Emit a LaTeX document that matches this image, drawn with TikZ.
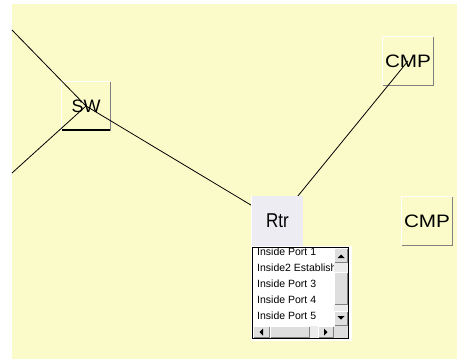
\documentclass[tikz,border=0pt]{standalone}
\usepackage{fontspec}
\setmainfont{Liberation Sans}
\definecolor{bgyel}{RGB}{251,251,202}
\definecolor{rtrfill}{RGB}{236,236,242}
\definecolor{btnface}{RGB}{222,222,222}
\definecolor{trackc}{RGB}{236,236,236}
\definecolor{shadowc}{RGB}{128,128,128}
\pgfdeclarelayer{boxes}
\pgfdeclarelayer{edges}
\pgfsetlayers{boxes,edges,main}
\newcommand\winbtn[4]{%
  \fill[btnface] (#1,#2) rectangle (#3,#4);
  \draw[white,line width=1pt] (#1+.5,#4-.5)--(#1+.5,#2+.5)--(#3-.5,#2+.5);
  \draw[shadowc,line width=1pt] (#3-.5,#2+.5)--(#3-.5,#4-.5)--(#1+.5,#4-.5);}
\newcommand\boxedges[1]{%
  \draw[white,line width=1pt] (#1.south west)--(#1.north west)--(#1.north east);
  \draw[shadowc,line width=1pt] (#1.north east)--(#1.south east)--(#1.south west);}
\begin{document}
\begin{tikzpicture}[x=1pt,y=-1pt,
  devbox/.style={minimum width=48pt,minimum height=48pt,inner sep=0pt,
    font=\fontsize{18pt}{20pt}\selectfont},
  rtrbox/.style={minimum width=51pt,minimum height=50pt,inner sep=0pt,fill=rtrfill,
    font=\fontsize{20pt}{22pt}\selectfont},
  edge/.style={black,line width=0.8pt},
  item/.style={anchor=west,inner sep=0pt,font=\fontsize{10.5pt}{12pt}\selectfont}]
\useasboundingbox (0,0) rectangle (457,359);
\begin{pgfonlayer}{boxes}
  \fill[white] (0,0) rectangle (457,359);
  \fill[bgyel] (12,4) rectangle (457,359);
  \node[devbox] (sw) at (86,106) {SW};
  \boxedges{sw}
  \draw[black,line width=1.5pt] (sw.south west)--(sw.south east);
  \node[devbox,minimum width=50pt] (cmpa) at (408,61) {\scalebox{1.15}[1]{CMP}};
  \boxedges{cmpa}
  \node[devbox,minimum width=50pt] (cmpb) at (427,221) {\scalebox{1.15}[1]{CMP}};
  \boxedges{cmpb}
\end{pgfonlayer}
\coordinate (e1) at (12,30);
\coordinate (e2) at (12,173);
\node[rtrbox] (rtr) at (277.5,221) {\raisebox{-4pt}{\scalebox{0.85}[1]{Rtr}}};
\draw[white,line width=1pt] (rtr.south west)--(rtr.north west);
\begin{pgfonlayer}{edges}
  \draw[edge] (e1) -- (sw.center);
  \draw[edge] (e2) -- (sw.center);
  \draw[edge] (sw.center) -- (rtr.center);
  \draw[edge] (rtr.center) -- (cmpa.center);
\end{pgfonlayer}
% list box
\node[fill=white,minimum width=101pt,minimum height=95pt,inner sep=0pt,anchor=north west] (list) at (251,246) {};
\draw[black,line width=1pt] (252.5,247.5) rectangle (348.5,338.5);
\begin{scope}
  \clip (253,248) rectangle (334,326);
  \node[item] (it1) at (257,251.5) {Inside Port 1};
  \node[item] (it2) at (257,267.5) {Inside2 Establish};
  \node[item] (it3) at (257,283.5) {Inside Port 3};
  \node[item] (it4) at (257,300) {Inside Port 4};
  \node[item] (it5) at (257,316) {Inside Port 5};
\end{scope}
% vertical scrollbar
\fill[trackc] (334,248) rectangle (348,326);
\winbtn{334}{248}{348}{263}
\winbtn{334}{272}{348}{305}
\winbtn{334}{311}{348}{326}
\fill (337.5,258) -- (344.5,258) -- (341,254.5) -- cycle;
\fill (337.5,316) -- (344.5,316) -- (341,319.5) -- cycle;
% horizontal scrollbar
\fill[trackc] (253,326) rectangle (334,338);
\winbtn{253}{326}{270}{338}
\winbtn{270}{326}{310}{338}
\winbtn{318}{326}{334}{338}
\fill (263,328.5) -- (263,335.5) -- (259.5,332) -- cycle;
\fill (324,328.5) -- (324,335.5) -- (327.5,332) -- cycle;
\fill[btnface] (334,326) rectangle (348,338);
\end{tikzpicture}
\end{document}
